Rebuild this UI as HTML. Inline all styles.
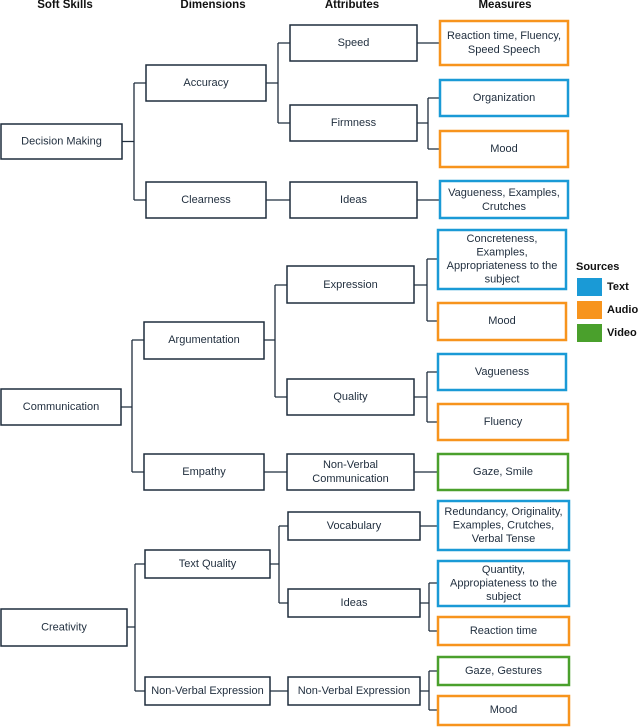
<!DOCTYPE html>
<html><head><meta charset="utf-8"><style>
html,body{margin:0;padding:0;background:#fff;}
svg{display:block;font-family:"Liberation Sans",sans-serif;}
text{font-size:11px;fill:#1f2d3d;text-anchor:middle;dominant-baseline:central;}
.h{font-weight:bold;font-size:11.5px;fill:#111;}
.n{fill:#fff;stroke:#1f2d3d;stroke-width:1.5;}
.b{fill:#fff;stroke:#1a9ad6;stroke-width:2.5;}
.o{fill:#fff;stroke:#f7941d;stroke-width:2.5;}
.g{fill:#fff;stroke:#4aa02c;stroke-width:2.5;}
.l{fill:none;stroke:#1f2d3d;stroke-width:1.3;}
.lg{text-anchor:start;font-weight:bold;fill:#111;}
</style></head><body>
<svg width="640" height="727" viewBox="0 0 640 727">
<text class="h" x="65" y="5">Soft Skills</text>
<text class="h" x="213" y="5">Dimensions</text>
<text class="h" x="352" y="5">Attributes</text>
<text class="h" x="505" y="5">Measures</text>

<!-- connectors sec1 -->
<path class="l" d="M122 141.5H134 M134 83V200 M134 83H146 M134 200H146 M266 83H278 M278 43V123 M278 43H290 M278 123H290 M266 200H290 M417 43H440 M417 123H428 M428 98V149 M428 98H440 M428 149H440 M417 200H440"/>
<!-- sec2 -->
<path class="l" d="M121 407H132 M132 340V472 M132 340H144 M132 472H144 M264 340H275 M275 285V397 M275 285H287 M275 397H287 M264 472H287 M414 285H427 M427 259V321 M427 259H438 M427 321H438 M414 397H427 M427 372V422 M427 372H438 M427 422H438 M414 472H438"/>
<!-- sec3 -->
<path class="l" d="M127 627H135 M135 564V691 M135 564H145 M135 691H145 M270 564H279 M279 526V603 M279 526H288 M279 603H288 M270 691H288 M420 526H438 M420 603H429 M429 583V631 M429 583H438 M429 631H438 M420 691H429 M429 671V710 M429 671H438 M429 710H438"/>

<!-- sec1 boxes -->
<rect class="n" x="1" y="124" width="121" height="35"/><text x="61.5" y="141.5">Decision Making</text>
<rect class="n" x="146" y="65" width="120" height="36"/><text x="206" y="83">Accuracy</text>
<rect class="n" x="146" y="182" width="120" height="36"/><text x="206" y="200">Clearness</text>
<rect class="n" x="290" y="25" width="127" height="36"/><text x="353.5" y="43">Speed</text>
<rect class="n" x="290" y="105" width="127" height="36"/><text x="353.5" y="123">Firmness</text>
<rect class="n" x="290" y="182" width="127" height="36"/><text x="353.5" y="200">Ideas</text>
<rect class="o" x="440" y="21" width="128" height="44"/><text x="504" y="36">Reaction time, Fluency,</text><text x="504" y="50">Speed Speech</text>
<rect class="b" x="440" y="80" width="128" height="36"/><text x="504" y="98">Organization</text>
<rect class="o" x="440" y="131" width="128" height="36"/><text x="504" y="149">Mood</text>
<rect class="b" x="440" y="181" width="128" height="37"/><text x="504" y="193">Vagueness, Examples,</text><text x="504" y="207">Crutches</text>

<!-- sec2 boxes -->
<rect class="n" x="1" y="389" width="120" height="36"/><text x="61" y="407">Communication</text>
<rect class="n" x="144" y="322" width="120" height="37"/><text x="204" y="340">Argumentation</text>
<rect class="n" x="144" y="454" width="120" height="36"/><text x="204" y="472">Empathy</text>
<rect class="n" x="287" y="266" width="127" height="37"/><text x="350.5" y="285">Expression</text>
<rect class="n" x="287" y="379" width="127" height="36"/><text x="350.5" y="397">Quality</text>
<rect class="n" x="287" y="454" width="127" height="36"/><text x="350.5" y="465">Non-Verbal</text><text x="350.5" y="479">Communication</text>
<rect class="b" x="438" y="230" width="128" height="59"/><text x="502" y="239">Concreteness,</text><text x="502" y="252.5">Examples,</text><text x="502" y="266">Appropriateness to the</text><text x="502" y="279.5">subject</text>
<rect class="o" x="438" y="303" width="128" height="37"/><text x="502" y="321">Mood</text>
<rect class="b" x="438" y="354" width="128" height="36"/><text x="502" y="372">Vagueness</text>
<rect class="o" x="438" y="404" width="130" height="36"/><text x="503" y="422">Fluency</text>
<rect class="g" x="438" y="454" width="130" height="36"/><text x="503" y="472">Gaze, Smile</text>

<!-- legend -->
<text class="lg" x="576" y="267">Sources</text>
<rect x="577" y="278" width="25" height="18" fill="#1a9ad6"/><text class="lg" x="607" y="287">Text</text>
<rect x="577" y="301" width="25" height="18" fill="#f7941d"/><text class="lg" x="607" y="310">Audio</text>
<rect x="577" y="324" width="25" height="18" fill="#4aa02c"/><text class="lg" x="607" y="333">Video</text>

<!-- sec3 boxes -->
<rect class="n" x="1" y="609" width="126" height="37"/><text x="64" y="627.5">Creativity</text>
<rect class="n" x="145" y="550" width="125" height="28"/><text x="207.5" y="564">Text Quality</text>
<rect class="n" x="145" y="677" width="125" height="28"/><text x="207.5" y="691">Non-Verbal Expression</text>
<rect class="n" x="288" y="512" width="132" height="28"/><text x="354" y="526">Vocabulary</text>
<rect class="n" x="288" y="589" width="132" height="28"/><text x="354" y="603">Ideas</text>
<rect class="n" x="288" y="677" width="132" height="28"/><text x="354" y="691">Non-Verbal Expression</text>
<rect class="b" x="438" y="501" width="131" height="49"/><text x="503.5" y="512">Redundancy, Originality,</text><text x="503.5" y="525.5">Examples, Crutches,</text><text x="503.5" y="539">Verbal Tense</text>
<rect class="b" x="438" y="561" width="131" height="45"/><text x="503.5" y="570">Quantity,</text><text x="503.5" y="583.5">Appropiateness to the</text><text x="503.5" y="597">subject</text>
<rect class="o" x="438" y="617" width="131" height="28"/><text x="503.5" y="631">Reaction time</text>
<rect class="g" x="438" y="657" width="131" height="28"/><text x="503.5" y="671">Gaze, Gestures</text>
<rect class="o" x="438" y="696" width="131" height="29"/><text x="503.5" y="710">Mood</text>
</svg>
</body></html>
